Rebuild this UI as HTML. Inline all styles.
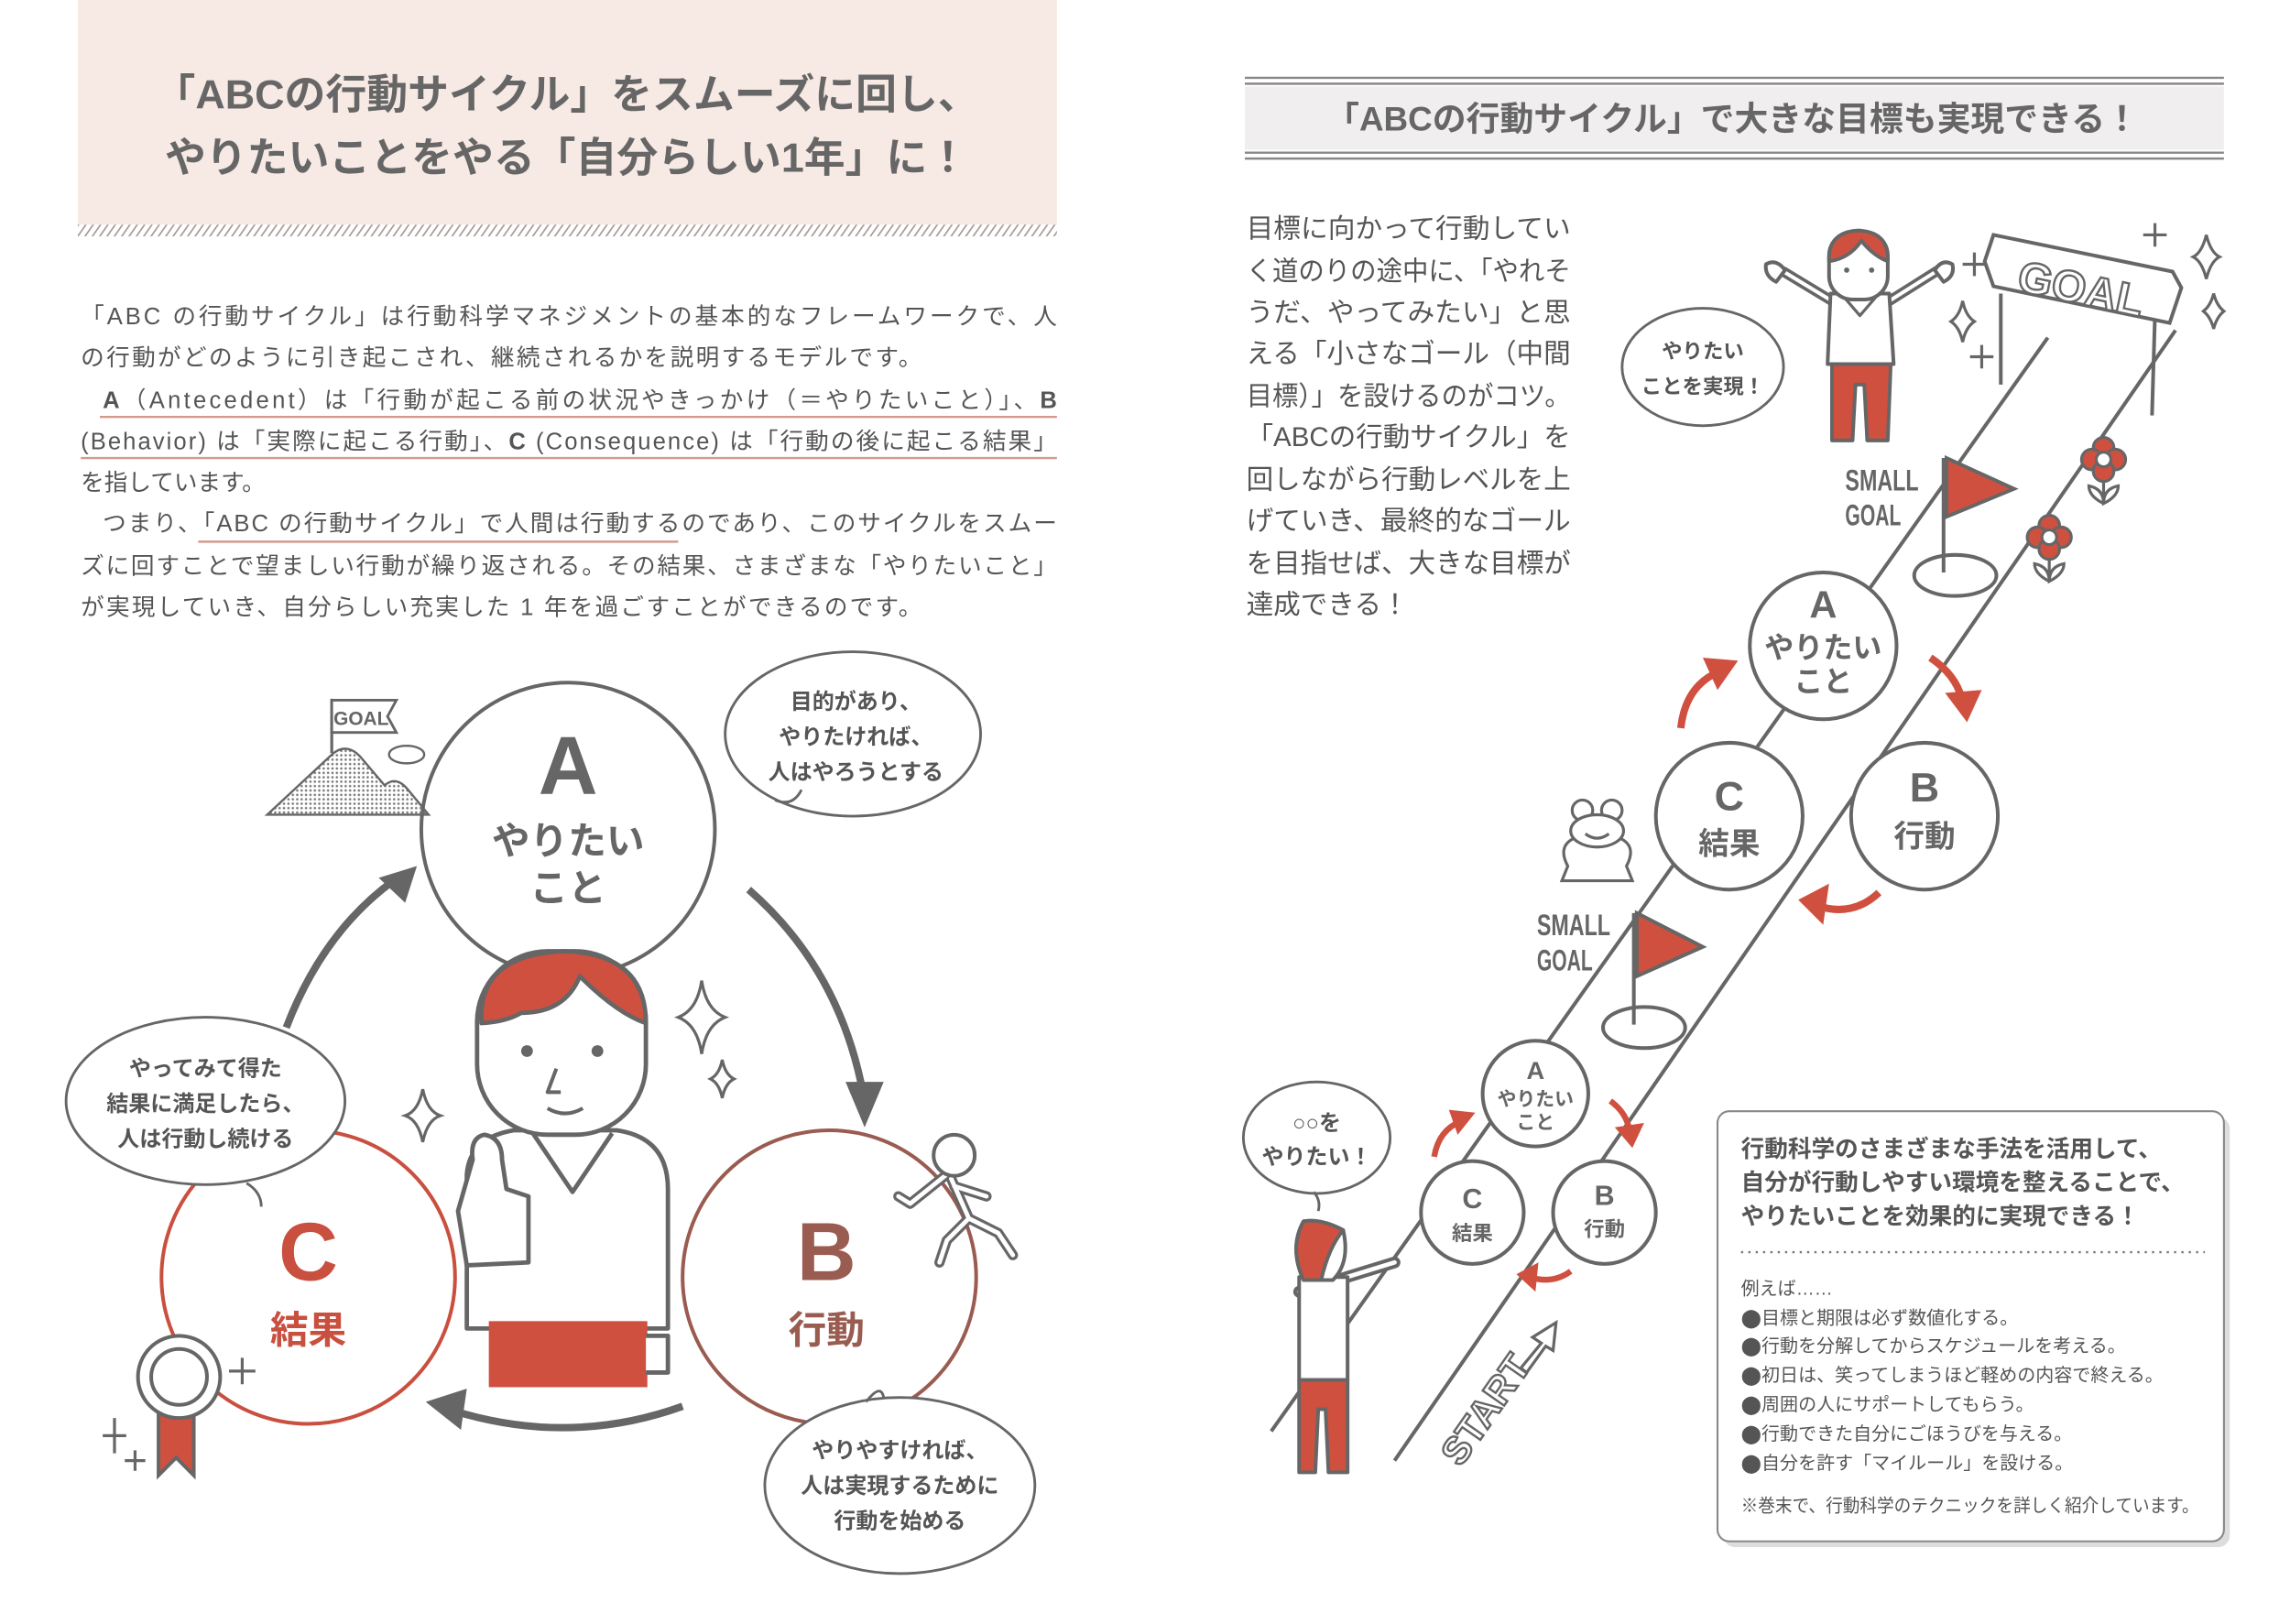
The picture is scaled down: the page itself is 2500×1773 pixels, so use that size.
<!DOCTYPE html>
<html><head><meta charset="utf-8">
<style>
html,body{margin:0;padding:0;background:#fff;}
svg{display:block;}
text{font-family:"Liberation Sans","Noto Sans CJK JP",sans-serif;fill:#555;}
.b{font-weight:bold;}
</style></head>
<body>
<svg width="2500" height="1773" viewBox="0 0 1560 1106.3" xmlns="http://www.w3.org/2000/svg">
<defs>
<pattern id="hatch" width="5" height="8" patternUnits="userSpaceOnUse" patternTransform="skewX(-35)">
<rect width="5" height="8" fill="#fff"/><rect width="1.3" height="8" fill="#a99"/>
</pattern>
<pattern id="dots" width="3" height="3" patternUnits="userSpaceOnUse"><circle cx="1.5" cy="1.5" r="0.8" fill="#777"/></pattern>
</defs>

<!-- LEFT HEADER -->
<rect x="53" y="0" width="667" height="153" fill="#f7e9e4"/>
<rect x="53" y="153" width="667" height="8" fill="url(#hatch)"/>
<text x="386" y="74" text-anchor="middle" class="b" font-size="28" style="fill:#666">「ABCの行動サイクル」をスムーズに回し、</text>
<text x="386" y="117" text-anchor="middle" class="b" font-size="28" style="fill:#666">やりたいことをやる「自分らしい1年」に！</text>

<!-- LEFT BODY -->
<g font-size="16">
<text x="55" y="221" textLength="665" lengthAdjust="spacing">「ABC の行動サイクル」は行動科学マネジメントの基本的なフレームワークで、人</text>
<text x="55" y="249" textLength="573" lengthAdjust="spacing">の行動がどのように引き起こされ、継続されるかを説明するモデルです。</text>
<text x="70" y="278" textLength="650" lengthAdjust="spacing"><tspan class="b">A</tspan>（Antecedent）は「行動が起こる前の状況やきっかけ（＝やりたいこと）」、<tspan class="b">B</tspan></text>
<text x="55" y="306" textLength="665" lengthAdjust="spacing">(Behavior) は「実際に起こる行動」、<tspan class="b">C</tspan> (Consequence) は「行動の後に起こる結果」</text>
<text x="55" y="334">を指しています。</text>
<text x="70" y="362" textLength="650" lengthAdjust="spacing">つまり、「ABC の行動サイクル」で人間は行動するのであり、このサイクルをスムー</text>
<text x="55" y="391" textLength="665" lengthAdjust="spacing">ズに回すことで望ましい行動が繰り返される。その結果、さまざまな「やりたいこと」</text>
<text x="55" y="419" textLength="573" lengthAdjust="spacing">が実現していき、自分らしい充実した 1 年を過ごすことができるのです。</text>
</g>
<g stroke="#d49a8e" stroke-width="1.5">
<line x1="68" y1="284" x2="720" y2="284"/>
<line x1="55" y1="312" x2="720" y2="312"/>
<line x1="135" y1="369" x2="462" y2="369"/>
</g>

<!-- LEFT DIAGRAM -->
<g fill="none" stroke-width="2.5">
<circle cx="387" cy="565" r="100" fill="#fff" stroke="#666"/>
<circle cx="210" cy="870" r="100" fill="#fff" stroke="#c94f3f"/>
<circle cx="565" cy="870" r="100" fill="#fff" stroke="#9a5b50"/>
</g>
<text x="387" y="541" text-anchor="middle" class="b" font-size="56" style="fill:#666">A</text>
<text x="387" y="582" text-anchor="middle" class="b" font-size="26" style="fill:#666">やりたい</text>
<text x="387" y="614" text-anchor="middle" class="b" font-size="26" style="fill:#666">こと</text>
<text x="210" y="872" text-anchor="middle" class="b" font-size="56" style="fill:#c94f3f">C</text>
<text x="210" y="915" text-anchor="middle" class="b" font-size="26" style="fill:#c94f3f">結果</text>
<text x="563" y="872" text-anchor="middle" class="b" font-size="56" style="fill:#9a5b50">B</text>
<text x="563" y="915" text-anchor="middle" class="b" font-size="26" style="fill:#9a5b50">行動</text>

<!-- arrows -->
<g fill="none" stroke="#666" stroke-width="5">
<path d="M195 700 Q220 635 268 600"/>
<path d="M510 606 Q572 660 588 745"/>
<path d="M465 958 Q390 985 312 962"/>
</g>
<g fill="#666">
<polygon points="284,590 258,598 276,615"/>
<polygon points="589,768 576,737 602,737"/>
<polygon points="290,955 318,946 314,974"/>
</g>

<!-- bubbles -->
<g fill="#fff" stroke="#666" stroke-width="1.8">
<ellipse cx="581" cy="500" rx="87" ry="56"/>
<ellipse cx="140" cy="750" rx="95" ry="57"/>
<ellipse cx="613" cy="1012" rx="92" ry="60"/>
</g>
<g fill="none" stroke="#666" stroke-width="1.8">
<path d="M528 545 Q540 550 546 538"/>
<path d="M168 806 Q178 812 178 822"/>
<path d="M590 955 Q600 942 602 952"/>
</g>
<g font-size="15" text-anchor="middle" class="b">
<text x="583" y="483">目的があり、</text>
<text x="583" y="507">やりたければ、</text>
<text x="583" y="531">人はやろうとする</text>
<text x="140" y="733">やってみて得た</text>
<text x="140" y="757">結果に満足したら、</text>
<text x="140" y="781">人は行動し続ける</text>
<text x="613" y="993">やりやすければ、</text>
<text x="613" y="1017">人は実現するために</text>
<text x="613" y="1041">行動を始める</text>
</g>

<!-- mountain & goal -->
<path d="M182 555 L225 515 Q235 505 245 515 L262 535 Q270 528 278 538 L292 555 Z" fill="url(#dots)" stroke="#666" stroke-width="1.5"/>
<line x1="226" y1="513" x2="226" y2="476" stroke="#666" stroke-width="2"/>
<path d="M226 477 L270 477 L264 488 L270 499 L226 499 Z" fill="#fff" stroke="#666" stroke-width="1.8"/>
<text x="246" y="494" text-anchor="middle" class="b" font-size="13" style="fill:#666">GOAL</text>
<ellipse cx="277" cy="514" rx="12" ry="6" fill="#fff" stroke="#666" stroke-width="1.5"/>

<!-- person -->
<g stroke="#666" stroke-width="3" stroke-linejoin="round">
<path d="M318 905 L318 800 Q320 775 350 770 L420 770 Q455 775 455 810 L455 905 Z" fill="#fff"/>
<path d="M363 772 L390 812 L417 772" fill="none"/>
<rect x="333" y="900" width="108" height="45" fill="#d05040" stroke="none"/>
<path d="M440 910 L455 910 L455 935 L440 935" fill="#fff"/>
<path d="M322 790 Q320 775 330 773 Q342 775 342 790 L345 810 L360 815 L360 860 L318 862 L312 825 Z" fill="#fff"/>
<rect x="325" y="648" width="115" height="125" rx="48" fill="#fff"/>
<path d="M328 697 Q325 650 385 648 Q440 650 440 697 Q420 690 395 665 Q385 690 355 690 Q345 696 328 697 Z" fill="#d05040"/>
<circle cx="359" cy="716" r="4" fill="#666" stroke="none"/>
<circle cx="407" cy="716" r="4" fill="#666" stroke="none"/>
<path d="M379 728 L373 744 L382 744" fill="none" stroke-width="2.5"/>
<path d="M373 755 Q385 762 397 755" fill="none" stroke-width="2.5"/>
</g>

<!-- sparkles -->
<g fill="#fff" stroke="#666" stroke-width="2">
<path d="M478 668 Q481 688 494 693 Q481 698 478 718 Q475 698 462 693 Q475 688 478 668 Z"/>
<path d="M492 722 Q494 732 500 735 Q494 738 492 748 Q490 738 484 735 Q490 732 492 722 Z"/>
<path d="M288 742 Q291 757 300 760 Q291 763 288 778 Q285 763 276 760 Q285 757 288 742 Z"/>
</g>

<!-- medal -->
<g stroke="#666" stroke-width="2.5">
<path d="M108 955 L108 1005 L120 993 L132 1005 L132 955 Z" fill="#d05040"/>
<circle cx="122" cy="938" r="28" fill="#fff"/>
<circle cx="122" cy="938" r="19" fill="#fff"/>
<path d="M165 925 v18 M156 934 h18 M78 966 v24 M70 978 h16 M92 988 v14 M85 995 h14" fill="none" stroke-width="2"/>
</g>

<!-- runner -->
<g fill="#fff" stroke="#666" stroke-width="2.5" stroke-linejoin="round">
<path d="M645 800 L620 820 L612 815 M648 803 L660 830 L645 845 L640 860 M660 830 L680 840 L690 855 M650 808 L672 815" fill="none" stroke-width="7" stroke-linecap="round"/>
<path d="M645 800 L620 820 L612 815 M648 803 L660 830 L645 845 L640 860 M660 830 L680 840 L690 855 M650 808 L672 815" fill="none" stroke="#fff" stroke-width="3" stroke-linecap="round"/>
<circle cx="650" cy="787" r="14"/>
</g>

<!-- RIGHT HEADER -->
<g stroke="#888" stroke-width="1.5">
<line x1="848" y1="53" x2="1515" y2="53"/><line x1="848" y1="57" x2="1515" y2="57"/>
<line x1="848" y1="104" x2="1515" y2="104"/><line x1="848" y1="108" x2="1515" y2="108"/>
</g>
<rect x="848" y="59" width="667" height="43" fill="#f0eeee"/>
<text x="1180" y="89" text-anchor="middle" class="b" font-size="23" style="fill:#666">「ABCの行動サイクル」で大きな目標も実現できる！</text>

<g font-size="18.5">
<text x="849" y="162" textLength="221" lengthAdjust="spacingAndGlyphs">目標に向かって行動してい</text>
<text x="849" y="191" textLength="221" lengthAdjust="spacingAndGlyphs">く道のりの途中に、「やれそ</text>
<text x="849" y="219" textLength="221" lengthAdjust="spacingAndGlyphs">うだ、やってみたい」と思</text>
<text x="849" y="247" textLength="221" lengthAdjust="spacingAndGlyphs">える「小さなゴール（中間</text>
<text x="849" y="276" textLength="221" lengthAdjust="spacingAndGlyphs">目標）」を設けるのがコツ。</text>
<text x="849" y="304" textLength="221" lengthAdjust="spacingAndGlyphs">「ABCの行動サイクル」を</text>
<text x="849" y="333" textLength="221" lengthAdjust="spacingAndGlyphs">回しながら行動レベルを上</text>
<text x="849" y="361" textLength="221" lengthAdjust="spacingAndGlyphs">げていき、最終的なゴール</text>
<text x="849" y="390" textLength="221" lengthAdjust="spacingAndGlyphs">を目指せば、大きな目標が</text>
<text x="849" y="418">達成できる！</text>
</g>

<!-- road -->
<g stroke="#666" stroke-width="2.5" fill="none">
<line x1="866" y1="975" x2="1395" y2="230"/>
<line x1="950" y1="995" x2="1482" y2="225"/>
</g>

<!-- GOAL gate -->
<g stroke="#666" stroke-width="2.5" fill="#fff">
<line x1="1363" y1="200" x2="1363" y2="262"/>
<line x1="1468" y1="215" x2="1466" y2="283"/>
<path d="M1358 160 L1480 185 L1486 196 L1478 220 L1358 195 L1352 178 Z"/>
</g>
<text x="1418" y="207" text-anchor="middle" class="b" font-size="30" transform="rotate(12 1418 195)" style="fill:#fff;stroke:#666;stroke-width:1.5">GOAL</text>
<g stroke="#666" stroke-width="2" fill="#fff">
<path d="M1468 152 v16 M1460 160 h16 M1345 172 v16 M1337 180 h16 M1350 235 v16 M1342 243 h16"/>
<path d="M1503 160 Q1506 172 1512 175 Q1506 178 1503 190 Q1500 178 1494 175 Q1500 172 1503 160 Z"/>
<path d="M1508 200 Q1510 208 1515 212 Q1510 216 1508 224 Q1506 216 1501 212 Q1506 208 1508 200 Z"/>
<path d="M1337 205 Q1339 215 1345 219 Q1339 223 1337 233 Q1335 223 1329 219 Q1335 215 1337 205 Z"/>
</g>

<!-- top person -->
<g stroke="#666" stroke-width="2.5" stroke-linejoin="round">
<path d="M1248 205 L1215 185 M1287 205 L1322 183" fill="none" stroke-width="7" stroke-linecap="round"/>
<path d="M1248 205 L1215 185 M1287 205 L1322 183" fill="none" stroke="#fff" stroke-width="2.5" stroke-linecap="round"/>
<path d="M1247 200 L1287 200 L1290 248 L1245 248 Z" fill="#fff"/>
<path d="M1255 201 L1267 215 L1279 201" fill="none" stroke-width="2"/>
<path d="M1248 248 L1288 248 L1286 300 L1272 300 L1270 262 L1264 262 L1262 300 L1248 300 Z" fill="#d05040"/>
<path d="M1203 180 Q1210 176 1216 184 L1210 192 Q1202 188 1203 180 Z M1330 180 Q1323 176 1318 184 L1324 192 Q1332 188 1330 180 Z" fill="#fff"/>
<rect x="1246" y="158" width="40" height="46" rx="16" fill="#fff"/>
<path d="M1246 178 Q1245 158 1266 157 Q1287 158 1286 178 Q1276 174 1268 164 Q1260 176 1246 178 Z" fill="#d05040"/>
<circle cx="1258" cy="184" r="1.8" fill="#666" stroke="none"/>
<circle cx="1275" cy="184" r="1.8" fill="#666" stroke="none"/>
</g>
<!-- top bubble -->
<ellipse cx="1160" cy="250" rx="55" ry="40" fill="#fff" stroke="#666" stroke-width="1.8"/>
<text x="1160" y="244" text-anchor="middle" class="b" font-size="14">やりたい</text>
<text x="1160" y="268" text-anchor="middle" class="b" font-size="14">ことを実現！</text>

<!-- flags -->
<g stroke="#666" stroke-width="2.5">
<ellipse cx="1332" cy="392" rx="28" ry="14" fill="#fff"/>
<line x1="1324" y1="312" x2="1324" y2="390"/>
<polygon points="1326,312 1372,333 1326,352" fill="#d05040"/>
<ellipse cx="1120" cy="700" rx="28" ry="14" fill="#fff"/>
<line x1="1113" y1="622" x2="1113" y2="698"/>
<polygon points="1115,622 1160,645 1115,665" fill="#d05040"/>
</g>
<g class="b" font-size="20">
<text x="1257" y="334" style="fill:#666" textLength="50" lengthAdjust="spacingAndGlyphs">SMALL</text>
<text x="1257" y="358" style="fill:#666" textLength="38" lengthAdjust="spacingAndGlyphs">GOAL</text>
<text x="1047" y="637" style="fill:#666" textLength="50" lengthAdjust="spacingAndGlyphs">SMALL</text>
<text x="1047" y="661" style="fill:#666" textLength="38" lengthAdjust="spacingAndGlyphs">GOAL</text>
</g>

<!-- flowers -->
<g stroke="#666" stroke-width="2">
<g transform="translate(1433 313)"><line x1="0" y1="8" x2="0" y2="30"/><circle cx="0" cy="-8" r="7" fill="#d05040"/><circle cx="-8" cy="0" r="7" fill="#d05040"/><circle cx="8" cy="0" r="7" fill="#d05040"/><circle cx="0" cy="8" r="7" fill="#d05040"/><circle cx="0" cy="0" r="5" fill="#fff"/><path d="M0 30 Q-10 25 -10 18 Q0 20 0 30 Q10 25 10 18 Q0 20 0 30" fill="#fff"/></g>
<g transform="translate(1396 366)"><line x1="0" y1="8" x2="0" y2="30"/><circle cx="0" cy="-8" r="7" fill="#d05040"/><circle cx="-8" cy="0" r="7" fill="#d05040"/><circle cx="8" cy="0" r="7" fill="#d05040"/><circle cx="0" cy="8" r="7" fill="#d05040"/><circle cx="0" cy="0" r="5" fill="#fff"/><path d="M0 30 Q-10 25 -10 18 Q0 20 0 30 Q10 25 10 18 Q0 20 0 30" fill="#fff"/></g>
</g>

<!-- frog -->
<g stroke="#666" stroke-width="2" fill="#fff">
<path d="M1068 590 Q1060 575 1075 570 L1101 570 Q1116 575 1108 590 L1112 600 L1064 600 Z"/>
<circle cx="1078" cy="552" r="7"/><circle cx="1098" cy="552" r="7"/>
<ellipse cx="1088" cy="566" rx="18" ry="11"/>
<path d="M1080 568 Q1088 574 1096 568" fill="none"/>
</g>

<!-- big circles -->
<g fill="#fff" stroke="#666" stroke-width="2.5">
<circle cx="1242" cy="440" r="50"/>
<circle cx="1178" cy="556" r="50"/>
<circle cx="1311" cy="556" r="50"/>
<circle cx="1046" cy="745" r="36"/>
<circle cx="1003" cy="826" r="35"/>
<circle cx="1093" cy="826" r="35"/>
</g>
<g class="b" text-anchor="middle">
<text x="1242" y="421" font-size="26" style="fill:#666">A</text>
<text x="1242" y="448" font-size="20" style="fill:#666">やりたい</text>
<text x="1242" y="471" font-size="20" style="fill:#666">こと</text>
<text x="1178" y="552" font-size="28" style="fill:#666">C</text>
<text x="1178" y="582" font-size="21" style="fill:#666">結果</text>
<text x="1311" y="546" font-size="28" style="fill:#666">B</text>
<text x="1311" y="577" font-size="21" style="fill:#666">行動</text>
<text x="1046" y="735" font-size="17" style="fill:#666">A</text>
<text x="1046" y="753" font-size="13" style="fill:#666">やりたい</text>
<text x="1046" y="769" font-size="13" style="fill:#666">こと</text>
<text x="1003" y="823" font-size="19" style="fill:#666">C</text>
<text x="1003" y="845" font-size="14" style="fill:#666">結果</text>
<text x="1093" y="821" font-size="19" style="fill:#666">B</text>
<text x="1093" y="842" font-size="14" style="fill:#666">行動</text>
</g>

<!-- red curved arrows -->
<g fill="none" stroke="#d05040" stroke-width="5">
<path d="M1145 496 Q1148 468 1170 458"/>
<path d="M1315 448 Q1333 460 1337 478"/>
<path d="M1280 608 Q1262 625 1238 617"/>
<path d="M977 788 Q980 770 995 764" stroke-width="4"/>
<path d="M1097 750 Q1108 758 1110 770" stroke-width="4"/>
<path d="M1070 866 Q1058 875 1042 870" stroke-width="4"/>
</g>
<g fill="#d05040">
<polygon points="1184,450 1160,448 1170,470"/>
<polygon points="1340,492 1325,472 1350,470"/>
<polygon points="1225,613 1246,602 1242,630"/>
<polygon points="1005,758 987,756 993,773"/>
<polygon points="1112,782 1100,768 1120,765"/>
<polygon points="1033,868 1048,860 1046,880"/>
</g>

<!-- START -->
<text x="995" y="1000" class="b" font-size="26" transform="rotate(-55 995 1000)" style="fill:#fff;stroke:#666;stroke-width:1.5">START</text>
<path d="M1036 932 L1050 915 L1044 911 L1060 901 L1058 920 L1053 917 L1040 935 Z" fill="#fff" stroke="#666" stroke-width="2"/>

<!-- bottom left person & bubble -->
<ellipse cx="897" cy="775" rx="50" ry="38" fill="#fff" stroke="#666" stroke-width="1.8"/>
<path d="M895 812 Q900 818 898 825" fill="none" stroke="#666" stroke-width="1.8"/>
<text x="897" y="770" text-anchor="middle" class="b" font-size="15">○○を</text>
<text x="897" y="793" text-anchor="middle" class="b" font-size="15">やりたい！</text>
<g stroke="#666" stroke-width="2.5" stroke-linejoin="round">
<path d="M885 880 L950 860" stroke-width="8" stroke-linecap="round"/>
<path d="M885 880 L950 860" stroke="#fff" stroke-width="3" stroke-linecap="round"/>
<path d="M885 870 L918 870 L918 940 L885 940 Z" fill="#fff"/>
<path d="M885 940 L918 940 L918 1003 L905 1003 L903 960 L898 960 L896 1003 L885 1003 Z" fill="#d05040"/>
<path d="M888 832 Q900 830 915 838 Q920 860 908 872 L888 872 Q878 850 888 832 Z" fill="#fff"/>
<path d="M888 832 Q900 830 915 838 Q905 850 900 872 L888 872 Q878 850 888 832 Z" fill="#d05040"/>
</g>

<!-- info box -->
<rect x="1174" y="761" width="345" height="293" rx="8" fill="#ddd"/>
<rect x="1170" y="757" width="345" height="293" rx="8" fill="#fff" stroke="#888" stroke-width="1.3"/>
<g class="b" font-size="16">
<text x="1186" y="788">行動科学のさまざまな手法を活用して、</text>
<text x="1186" y="811">自分が行動しやすい環境を整えることで、</text>
<text x="1186" y="834">やりたいことを効果的に実現できる！</text>
</g>
<line x1="1186" y1="853" x2="1502" y2="853" stroke="#777" stroke-width="1.5" stroke-dasharray="1.5 3.5"/>
<g font-size="12.5">
<text x="1186" y="882">例えば……</text>
<text x="1186" y="902">⬤目標と期限は必ず数値化する。</text>
<text x="1186" y="921">⬤行動を分解してからスケジュールを考える。</text>
<text x="1186" y="941">⬤初日は、笑ってしまうほど軽めの内容で終える。</text>
<text x="1186" y="961">⬤周囲の人にサポートしてもらう。</text>
<text x="1186" y="981">⬤行動できた自分にごほうびを与える。</text>
<text x="1186" y="1001">⬤自分を許す「マイルール」を設ける。</text>
<text x="1186" y="1030" textLength="312" lengthAdjust="spacingAndGlyphs">※巻末で、行動科学のテクニックを詳しく紹介しています。</text>
</g>
</svg>
</body></html>
